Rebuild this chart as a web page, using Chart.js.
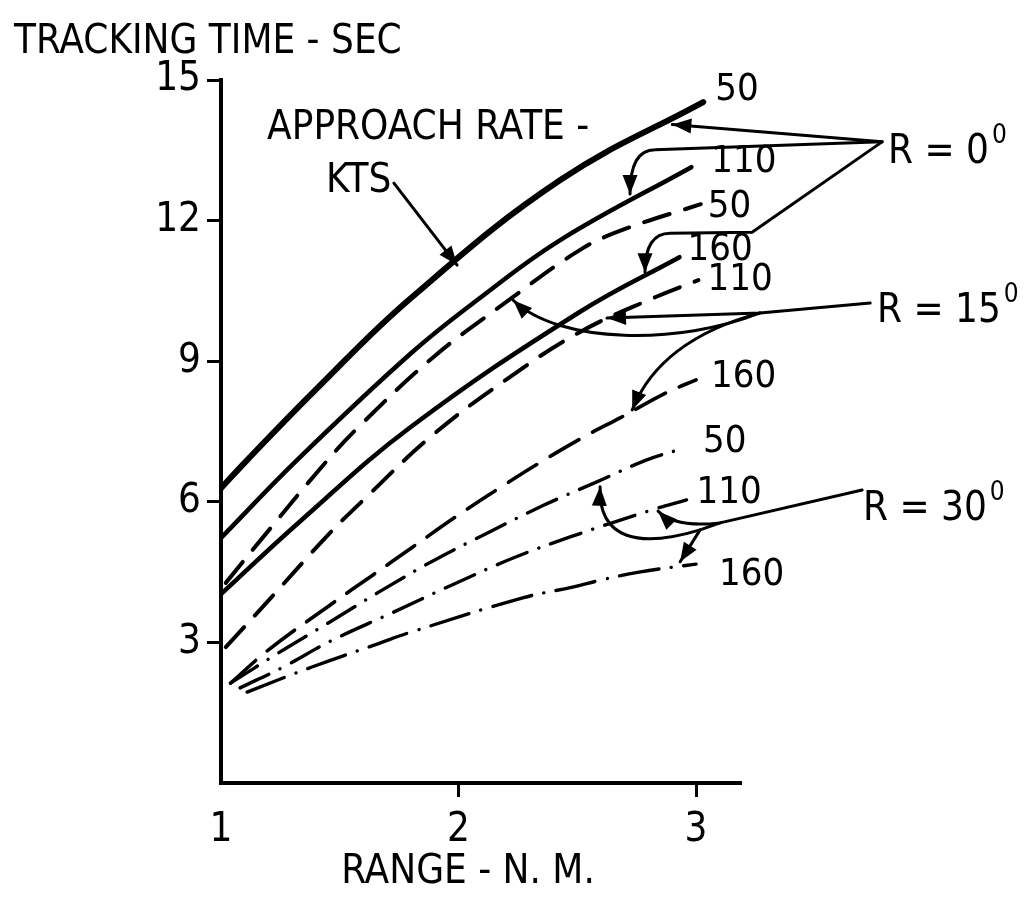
<!DOCTYPE html>
<html>
<head>
<meta charset="utf-8">
<script src="https://cdn.jsdelivr.net/npm/chart.js@4.4.0/dist/chart.umd.min.js"></script>
<style>
  html, body { margin: 0; background: #fff; }
  canvas { display: block; }
</style>
</head>
<body>
<canvas id="trackingChart" width="1028" height="909"></canvas>
<script>
// axis ticks
const rangeTicks = [1, 2, 3];
const timeTicks = [0, 3, 6, 9, 12, 15];

// approach rate (kts) written at the end of each curve
const rateLabels = ['50', '110', '160', '50', '110', '160', '50', '110', '160'];

// R = 0 deg
const range0_50 = [1.00, 1.11, 1.40, 1.80, 2.43, 3.03];
const time0_50 = [6.29, 6.89, 8.40, 10.35, 12.87, 14.53];
const range0_110 = [1.00, 1.32, 1.80, 2.08, 2.43, 2.98];
const time0_110 = [5.23, 6.89, 9.17, 10.31, 11.59, 13.14];
const range0_160 = [1.00, 1.33, 1.80, 2.51, 2.93];
const time0_160 = [4.03, 5.57, 7.60, 10.05, 11.22];

// R = 15 deg
const range15_50 = [1.02, 1.16, 1.43, 1.58, 1.89, 2.20, 2.51, 2.69, 3.02];
const time15_50 = [4.27, 5.14, 6.78, 7.60, 9.07, 10.26, 11.37, 11.80, 12.35];
const range15_110 = [1.02, 1.21, 1.45, 1.60, 1.89, 2.21, 2.51, 2.83, 3.01];
const time15_110 = [2.90, 3.95, 5.29, 6.04, 7.42, 8.64, 9.62, 10.37, 10.73];
const range15_160 = [1.04, 1.20, 1.46, 1.64, 1.80, 2.00, 2.18, 2.36, 2.54, 2.68, 2.88, 3.00];
const time15_160 = [2.13, 2.84, 3.80, 4.44, 5.01, 5.72, 6.32, 6.89, 7.42, 7.79, 8.34, 8.60];

// R = 30 deg
const range30_50 = [1.04, 1.24, 1.45, 1.68, 1.90, 2.12, 2.36, 2.58, 2.79, 2.92];
const time30_50 = [2.13, 2.77, 3.41, 4.12, 4.76, 5.33, 5.93, 6.42, 6.89, 7.10];
const range30_110 = [1.08, 1.26, 1.47, 1.72, 1.97, 2.23, 2.47, 2.81, 2.96];
const time30_110 = [2.03, 2.47, 3.05, 3.63, 4.22, 4.80, 5.25, 5.82, 6.04];
const range30_160 = [1.11, 1.38, 1.66, 1.80, 2.27, 2.48, 2.60, 2.76, 3.00];
const time30_160 = [1.94, 2.47, 2.97, 3.22, 3.95, 4.18, 4.33, 4.50, 4.67];

const FONT = '"Liberation Sans Narrow", "DejaVu Sans Condensed", "Liberation Sans", sans-serif';

function pts(range, time) {
    return range.map((r, i) => ({ x: r, y: time[i] }));
}

function curve(range, time, width, dash) {
    return {
        data: pts(range, time),
        borderColor: '#000',
        borderWidth: width,
        borderDash: dash,
        borderCapStyle: 'round',
        borderJoinStyle: 'round',
        tension: 0.4,
        pointRadius: 0,
        fill: false
    };
}

const solid = [];
const dashed = [27, 16];
const longDash = [34, 15];
const dashDot = [32, 12.5, 0.1, 12.5];

const datasets = [
    curve(range0_50, time0_50, 6, solid),
    curve(range0_110, time0_110, 4.5, solid),
    curve(range0_160, time0_160, 4.5, solid),
    curve(range15_50, time15_50, 4, dashed),
    curve(range15_110, time15_110, 4, dashed),
    curve(range15_160, time15_160, 3.6, longDash),
    curve(range30_50, time30_50, 3.4, dashDot),
    curve(range30_110, time30_110, 3.4, dashDot),
    curve(range30_160, time30_160, 3.4, [40, 12.5, 0.1, 12.5])
];

// label offsets (px) from the last point of each curve
const labelOffsets = [[12, -2], [20, 5], [8, 3], [7, 13], [9, 10], [15, 7], [26, 2], [10, 3], [23, 21]];

// leader arrows, in chart units: M move, L line, Q quadratic, C cubic
const leaders = [
    [['M', 1.728, 12.80], ['L', 1.994, 11.05]],
    [['M', 3.783, 13.68], ['L', 2.90, 14.05]],
    [['M', 3.783, 13.68], ['L', 2.827, 13.51], ['Q', 2.722, 13.51, 2.722, 12.57]],
    [['M', 3.783, 13.68], ['L', 3.236, 11.75], ['L', 2.891, 11.73], ['Q', 2.785, 11.73, 2.785, 10.90]],
    [['M', 3.733, 10.24], ['L', 3.269, 10.03], ['L', 2.625, 9.92]],
    [['M', 3.269, 10.03], ['C', 2.933, 9.35, 2.427, 9.35, 2.23, 10.30]],
    [['M', 3.269, 10.03], ['Q', 2.848, 9.45, 2.731, 7.96]],
    [['M', 3.699, 6.25], ['L', 3.101, 5.55], ['Q', 2.912, 5.44, 2.84, 5.80]],
    [['M', 3.101, 5.55], ['L', 3.017, 5.40], ['C', 2.764, 5.01, 2.587, 5.18, 2.596, 6.32]],
    [['M', 3.017, 5.40], ['L', 2.933, 4.72]]
];

function arrowHead(ctx, fx, fy, tx, ty) {
    const a = Math.atan2(ty - fy, tx - fx);
    const len = 19, half = 7.5;
    ctx.beginPath();
    ctx.moveTo(tx, ty);
    ctx.lineTo(tx - len * Math.cos(a) + half * Math.sin(a), ty - len * Math.sin(a) - half * Math.cos(a));
    ctx.lineTo(tx - len * Math.cos(a) - half * Math.sin(a), ty - len * Math.sin(a) + half * Math.cos(a));
    ctx.closePath();
    ctx.fill();
}

const annotations = {
    id: 'annotations',
    afterDraw(chart) {
        const { ctx, chartArea, scales: { x, y } } = chart;
        const px = v => x.getPixelForValue(v);
        const py = v => y.getPixelForValue(v);
        ctx.save();
        ctx.fillStyle = '#000';
        ctx.strokeStyle = '#000';
        ctx.textBaseline = 'alphabetic';
        ctx.textAlign = 'left';

        // curve end labels
        ctx.font = '38px ' + FONT;
        chart.data.datasets.forEach((ds, i) => {
            const meta = chart.getDatasetMeta(i);
            const last = meta.data[meta.data.length - 1];
            ctx.fillText(rateLabels[i], last.x + labelOffsets[i][0], last.y + labelOffsets[i][1]);
        });

        // leaders
        ctx.lineWidth = 3;
        ctx.lineCap = 'round';
        ctx.lineJoin = 'round';
        leaders.forEach(path => {
            let prev = null, ctrl = null;
            ctx.beginPath();
            path.forEach(seg => {
                const p = seg.slice(1);
                if (seg[0] === 'M') {
                    ctx.moveTo(px(p[0]), py(p[1]));
                    prev = [px(p[0]), py(p[1])];
                } else if (seg[0] === 'L') {
                    ctrl = prev;
                    ctx.lineTo(px(p[0]), py(p[1]));
                    prev = [px(p[0]), py(p[1])];
                } else if (seg[0] === 'Q') {
                    ctrl = [px(p[0]), py(p[1])];
                    ctx.quadraticCurveTo(ctrl[0], ctrl[1], px(p[2]), py(p[3]));
                    prev = [px(p[2]), py(p[3])];
                } else if (seg[0] === 'C') {
                    ctrl = [px(p[2]), py(p[3])];
                    ctx.bezierCurveTo(px(p[0]), py(p[1]), ctrl[0], ctrl[1], px(p[4]), py(p[5]));
                    prev = [px(p[4]), py(p[5])];
                }
            });
            ctx.stroke();
            arrowHead(ctx, ctrl[0], ctrl[1], prev[0], prev[1]);
        });

        // notes
        ctx.font = '40px ' + FONT;
        ctx.fillText('APPROACH RATE -', px(1.194), py(13.74));
        ctx.fillText('KTS', px(1.442), py(12.61));
        ctx.fillText('TRACKING TIME - SEC', chartArea.left - 207, chartArea.top - 27);
        ctx.textAlign = 'center';
        ctx.fillText('RANGE - N. M.', px(2.04), chartArea.bottom + 100);
        ctx.textAlign = 'left';

        [['R = 0', 3.808, 13.23], ['R = 15', 3.762, 9.84], ['R = 30', 3.703, 5.61]].forEach(r => {
            ctx.font = '40px ' + FONT;
            const tx = px(r[1]), ty = py(r[2]);
            ctx.fillText(r[0], tx, ty);
            const w = ctx.measureText(r[0]).width;
            ctx.font = '26px ' + FONT;
            ctx.fillText('0', tx + w + 3, ty - 20);
        });
        ctx.restore();
    }
};

const tickFont = { family: FONT, size: 40 };

new Chart(document.getElementById('trackingChart'), {
    type: 'line',
    data: { datasets },
    plugins: [annotations],
    options: {
        responsive: false,
        animation: false,
        layout: { padding: { top: 80, right: 288, left: 0, bottom: 0 } },
        plugins: { legend: { display: false }, tooltip: { enabled: false } },
        scales: {
            x: {
                type: 'linear',
                min: 1,
                max: 3.185,
                afterBuildTicks: s => { s.ticks = rangeTicks.map(v => ({ value: v })); },
                afterFit: s => { s.height = 126; },
                border: { display: true, color: '#000', width: 4 },
                grid: {
                    drawOnChartArea: false,
                    drawTicks: true,
                    tickLength: 14,
                    lineWidth: 3,
                    color: c => (c.tick && c.tick.value === 1) ? 'rgba(0,0,0,0)' : '#000'
                },
                ticks: { color: '#000', font: tickFont, padding: 10, maxRotation: 0, autoSkip: false }
            },
            y: {
                min: 0,
                max: 15,
                afterBuildTicks: s => { s.ticks = timeTicks.map(v => ({ value: v })); },
                afterFit: s => { s.width = 221; },
                border: { display: true, color: '#000', width: 4 },
                grid: {
                    drawOnChartArea: false,
                    drawTicks: true,
                    tickLength: 14,
                    lineWidth: 3,
                    color: c => (c.tick && c.tick.value === 0) ? 'rgba(0,0,0,0)' : '#000'
                },
                ticks: {
                    color: '#000',
                    font: tickFont,
                    padding: 6,
                    callback: v => v === 0 ? '' : v
                }
            }
        }
    }
});
</script>
</body>
</html>
